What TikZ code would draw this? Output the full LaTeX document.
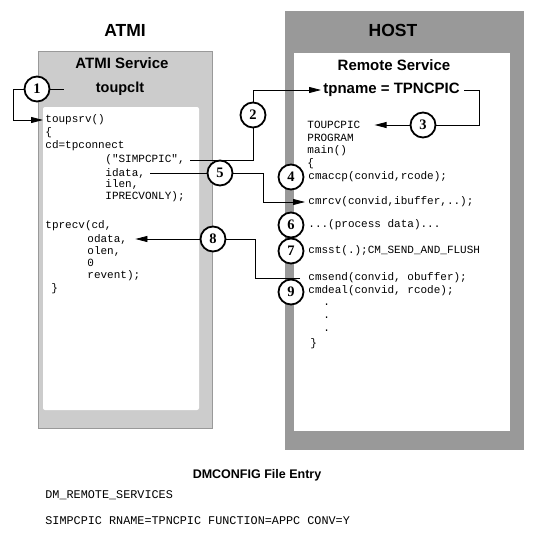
\documentclass[tikz,border=0pt]{standalone}
\usepackage{fontspec}
\setmainfont{Liberation Serif}
\setsansfont{Liberation Sans}
\setmonofont{Liberation Mono}
\usetikzlibrary{arrows.meta}
\definecolor{atmigray}{HTML}{CCCCCC}
\definecolor{hostgray}{HTML}{999999}

\begin{document}
\begin{tikzpicture}[x=1pt,y=-1pt,line width=0.8pt,
    num/.style={circle,draw,line width=1.8pt,minimum size=25pt,inner sep=0pt,fill=white,
      font=\fontsize{14.5}{14.5}\selectfont\bfseries},
    code/.style={anchor=west,inner sep=0pt,font=\fontsize{11}{11}\selectfont\ttfamily},
    title/.style={font=\fontsize{17.5}{17.5}\selectfont\sffamily\bfseries},
    head/.style={font=\fontsize{15}{15}\selectfont\sffamily\bfseries},
    flow/.style={-{Triangle[length=12pt,width=6pt]}}]
    \useasboundingbox (0,0) rectangle (543,555);

    % boxes
    \coordinate (a0) at (38,51);
    \coordinate (a1) at (212,428);
    \coordinate (ai0) at (43,107);
    \coordinate (ai1) at (199,410);
    \coordinate (h0) at (285,11);
    \coordinate (h1) at (524,450);
    \coordinate (hi0) at (294,53);
    \coordinate (hi1) at (510,431);

    \fill[atmigray] (a0) rectangle (a1);
    \draw[hostgray,line width=0.6pt] (a0) rectangle (a1);
    \fill[white,rounded corners=2pt] (ai0) rectangle (ai1);
    \fill[hostgray] (h0) rectangle (h1);
    \fill[white] (hi0) rectangle (hi1);

    \node[title] (atmi) at (125,30) {ATMI};
    \node[title] (host) at (393,30) {HOST};
    \node[head] (atmisvc) at (122,63) {ATMI Service};
    \node[head,font=\fontsize{14.5}{14.5}\selectfont\sffamily\bfseries] (toupclt) at (120,89) {toupclt};
    \node[head] (remsvc) at (394,65) {Remote Service};
    \node[head,anchor=west,inner sep=1pt] (tpname) at (322,90) {tpname = TPNCPIC};

    % ATMI code
    \node[code] (toupsrv) at (45,120) {toupsrv()};
    \node[code] (abr0) at (45,133) {\{};
    \node[code] (cd) at (45,146) {cd=tpconnect};
    \node[code] (simpcpic) at (105,160) {("SIMPCPIC",};
    \node[code] (idata) at (105,173) {idata,};
    \node[code] (ilen) at (105,184) {ilen,};
    \node[code] (iprecv) at (105,197) {IPRECVONLY);};
    \node[code] (tprecv) at (45,226) {tprecv(cd,};
    \node[code] (odata) at (87,239) {odata,};
    \node[code] (olen) at (87,251) {olen,};
    \node[code] (zero) at (87,263) {0};
    \node[code] (revent) at (87,276) {revent);};
    \node[code] (abr1) at (51,289) {\}};

    % HOST code
    \node[code] (toupcpic) at (307,125) {TOUPCPIC};
    \node[code] (program) at (307,138) {PROGRAM};
    \node[code] (main) at (307,151) {main()};
    \node[code] (hbr0) at (307,164) {\{};
    \node[code] (cmaccp) at (308,177) {cmaccp(convid,rcode);};
    \node[code] (cmrcv) at (308,202) {cmrcv(convid,ibuffer,..);};
    \node[code] (process) at (308,225) {...(process data)...};
    \node[code] (cmsst) at (308,251) {cmsst(.);CM\_SEND\_AND\_FLUSH};
    \node[code] (cmsend) at (308,278) {cmsend(convid, obuffer);};
    \node[code] (cmdeal) at (308,291) {cmdeal(convid, rcode);};
    \foreach \y [count=\i] in {305,318,331}
      \node[code] (dot\i) at (323,\y) {.};
    \node[code] (hbr1) at (310,344) {\}};

    % steps
    \node[num] (c1) at (37,89) {1};
    \node[num] (c2) at (253,115) {2};
    \node[num] (c3) at (423,125) {3};
    \node[num] (c4) at (291,177) {4};
    \node[num] (c5) at (220,173) {5};
    \node[num] (c6) at (291,225) {6};
    \node[num] (c7) at (291,251) {7};
    \node[num] (c8) at (213,239) {8};
    \node[num] (c9) at (291,292) {9};

    \coordinate (c1e) at (64,89);
    \coordinate (k3) at (479,125);

    \draw (c1.east) -- (c1e);
    \draw[flow,shorten >=2pt] (c1.west) -- ++(-10,0) |- (toupsrv.west);
    \draw[shorten <=5pt] (simpcpic.east) -| (c2.south);
    \draw[flow,shorten >=1pt] (c2.north) |- (tpname.west);
    \draw[shorten <=3pt] (tpname.east) -| (k3) -- (c3.east);
    \draw[flow,shorten >=14pt] (c3.west) -- (toupcpic.east);
    \draw[shorten <=5pt] (idata.east) -- (c5.west);
    \draw[flow,shorten >=3pt] (c5.east) -- ++(29.5,0) |- (cmrcv.west);
    \draw[shorten <=8pt] (cmsend.west) -- ++(-53,0) |- (c8.east);
    \draw[flow,shorten >=8pt] (c8.west) -- (odata.east);

    % DMCONFIG entry
    \node[font=\fontsize{12.5}{12.5}\selectfont\sffamily\bfseries] (dmcfg) at (257,475) {DMCONFIG File Entry};
    \node[code,font=\fontsize{11.8}{11.8}\selectfont\ttfamily] (dmrem) at (45,495) {DM\_REMOTE\_SERVICES};
    \node[code,font=\fontsize{11.8}{11.8}\selectfont\ttfamily] (simp) at (45,521) {SIMPCPIC RNAME=TPNCPIC FUNCTION=APPC CONV=Y};
\end{tikzpicture}
\end{document}
